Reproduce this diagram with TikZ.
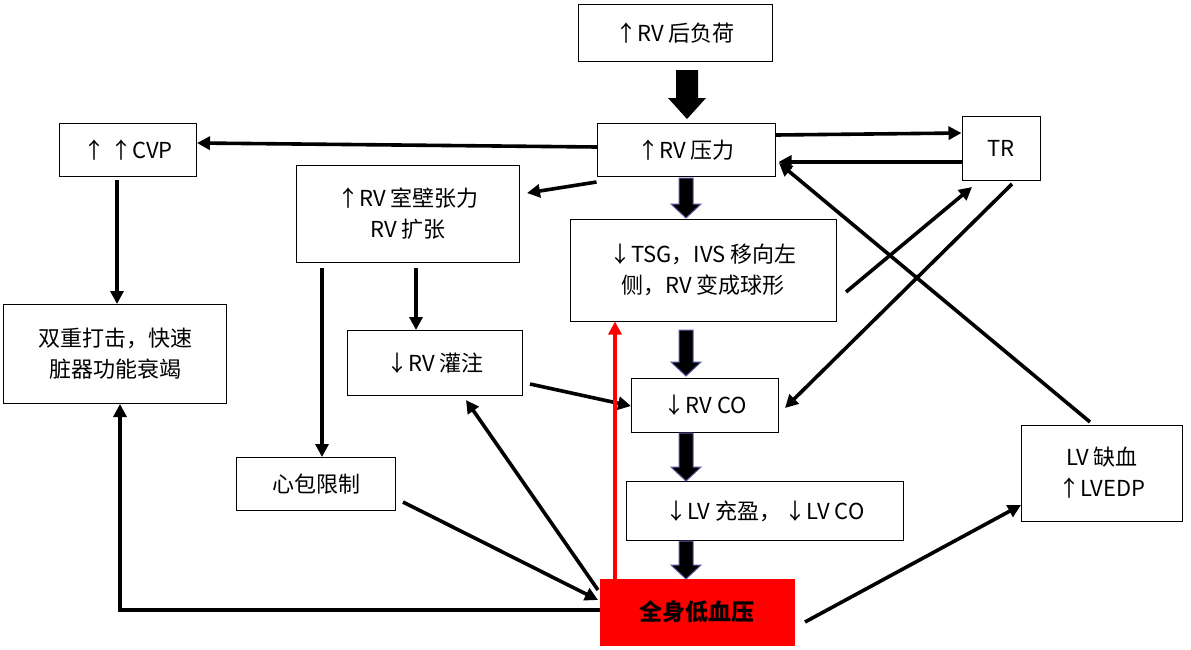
\documentclass[tikz,border=0pt]{standalone}
\usepackage{fontspec}
\setmainfont{Liberation Serif}
\newfontfamily\cjk{Noto Sans CJK SC}
\usetikzlibrary{arrows.meta}
\begin{document}
\begin{tikzpicture}[x=1pt,y=-1pt,
 bx/.style={draw,line width=1pt,font=\cjk\fontsize{22}{31}\selectfont,align=center,inner sep=0pt},
 ar/.style={line width=3.6pt,-{Triangle[length=13pt,width=13pt]}},
 blk/.style={draw=blue!30!gray,line width=1pt,fill=black}]
\useasboundingbox (0,0) rectangle (1191,649);
\node[bx,minimum width=194,minimum height=57] (ah) at (675,33) {↑RV 后负荷};
\node[bx,minimum width=178,minimum height=53] (p) at (686,150) {↑RV 压力};
\node[bx,minimum width=78,minimum height=64] (tr) at (1001,148) {TR};
\node[bx,minimum width=137,minimum height=53] (cvp) at (128,150) {↑ ↑CVP};
\node[bx,minimum width=223,minimum height=97] (w) at (408,214) {↑RV\ 室壁张力\\RV 扩张};
\node[bx,minimum width=266,minimum height=102] (t) at (703,270) {↓TSG，IVS 移向左\\侧，RV 变成球形};
\node[bx,minimum width=223,minimum height=99] (d) at (115,354) {双重打击，快速\\脏器功能衰竭};
\node[bx,minimum width=175,minimum height=65] (g) at (435,363) {↓RV 灌注};
\node[bx,minimum width=147,minimum height=54] (co) at (705,405) {↓RV CO};
\node[bx,minimum width=159,minimum height=53] (x) at (316,484) {心包限制};
\node[bx,minimum width=277,minimum height=59] (lv) at (765,511) {↓LV 充盈，\,↓LV CO};
\node[bx,minimum width=161,minimum height=96] (lq) at (1102,473) {LV 缺血\\↑LVEDP};
\node[bx,draw=red,fill=red,minimum width=194,minimum height=66,font=\cjk\bfseries\fontsize{23}{28}\selectfont] (h) at (697,612) {全身低血压};
\def\blkarrow#1#2{\fill[blk] (679,#1) -- (693,#1) -- (693,#2-14) -- (701,#2-14) -- (686,#2) -- (671,#2-14) -- (679,#2-14) -- cycle;}
\fill (676,70) -- (698,70) -- (698,98) -- (706,98) -- (687,119) -- (668,98) -- (676,98) -- cycle;
\blkarrow{178}{218}
\blkarrow{330}{376}
\blkarrow{433}{481}
\blkarrow{541}{579}
\coordinate (p1) at (597,147); \coordinate (c1) at (197,143);
\draw[ar] (p1) -- (c1);
\draw[ar] (p.east|-0,135) -- (tr.west|-0,133);
\draw[ar] (tr.west|-0,162) -- ([xshift=3pt]p.east|-0,162);
\draw[ar] ([yshift=-5pt]p.south west) -- (527,193);
\draw[ar] (117,180) -- (d.north-|117,0);
\draw[ar] (416,268) -- (g.north-|416,0);
\draw[ar] (322,268) -- (x.north-|322,0);
\draw[ar] (530,384) -- (co.west|-0,406);
\draw[ar] (403,502) -- (598,600);
\draw[ar] (598,590) -- (466,400);
\draw[ar] (h.west|-0,610) -- (120,610) -- (d.south-|120,0);
\draw[line width=3.6pt,red,-{Triangle[length=13pt,width=13pt]}] (h.north-|615,0) -- (t.south-|615,0);
\draw[ar] (846,292) -- (972,187);
\draw[ar] (1012,184) -- (785,408);
\draw[ar] (1090,422) -- (779,163);
\draw[ar] (805,622) -- (lq.west|-0,505);
\end{tikzpicture}
\end{document}
